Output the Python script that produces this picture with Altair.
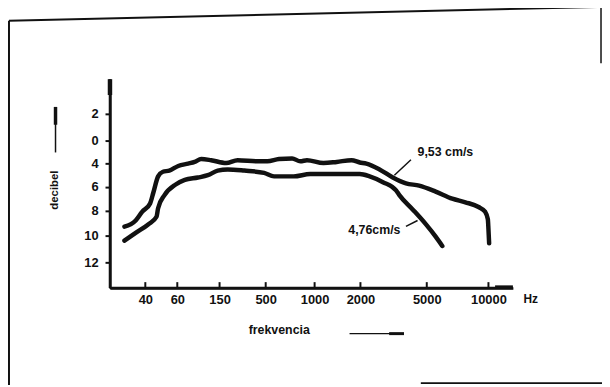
import altair as alt
import pandas as pd

# ---- data ----
freq_953 = [27, 34, 38, 43, 45, 48, 51, 55, 62, 83, 97, 111, 132, 200, 287, 438, 517, 636, 770, 854,
            922, 1194, 1482, 1806, 1985, 2269, 2864, 3464, 4060, 4655, 5722, 7063, 8130, 9198, 9735,
            9952, 10000, 10057]
db_953 = [9.3, 8.8, 8.1, 7.4, 6.5, 5.1, 4.7, 4.6, 4.2, 4.0, 3.7, 3.2, 3.4, 3.9, 3.4, 3.6, 3.6, 3.2, 3.1, 3.6,
          3.4, 3.9, 3.7, 3.4, 3.8, 4.0, 4.5, 5.2, 5.7, 5.9, 6.4, 7.0, 7.3, 7.7, 8.1,
          8.7, 9.5, 10.6]
freq_476 = [27, 34, 42, 47, 48, 52, 59, 76, 104, 125, 146, 212, 338, 488, 585, 787, 955, 1337, 1769, 1985,
            2416, 3017, 3612, 3760, 4360, 4955, 5722, 6260]
db_476 = [10.4, 9.8, 9.1, 8.5, 7.8, 6.7, 5.8, 5.4, 5.2, 5.0, 4.6, 4.5, 4.6, 4.8, 5.1, 5.1, 4.9, 4.9, 4.9, 4.9,
          5.1, 5.6, 6.3, 6.7, 7.9, 9.1, 10.1, 10.8]
series_names = ["9,53 cm/s", "4,76cm/s"]

x_ticks = [40, 60, 150, 500, 1000, 2000, 5000, 10000]
y_ticks = [-2, 0, 4, 6, 8, 10, 12]

# ---- non-uniform (hand drawn) axes: piecewise scales ----
x_domain = [18, 40, 60, 150, 500, 1000, 2000, 5000, 10000, 12000]
x_range = [0, 35.7, 68, 110.7, 157.3, 206.7, 253, 320, 382.3, 407]
y_domain = [-4.4, -2, 0, 4, 6, 8, 10, 12, 14]
y_range = [0, 32.7, 60, 83.3, 106.7, 130.7, 155.7, 182.7, 209]

W, H = 407, 209
FONT = "Liberation Sans"

df = pd.concat([
    pd.DataFrame({"freq": freq_953, "db": db_953, "series": series_names[0]}),
    pd.DataFrame({"freq": freq_476, "db": db_476, "series": series_names[1]}),
])

xscale = alt.Scale(type="linear", domain=x_domain, range=x_range, nice=False, zero=False)
yscale = alt.Scale(type="linear", domain=y_domain, range=y_range, nice=False, zero=False)

xaxis = alt.Axis(values=x_ticks, format="d", title=None, grid=False, ticks=False, tickSize=0,
                 labelPadding=6, labelFontSize=13, labelFontWeight="bold", labelFont=FONT,
                 labelColor="#111", domainColor="#111", domainWidth=2.5, labelFlush=False)
yaxis = alt.Axis(values=y_ticks, labelExpr="'' + abs(datum.value)", title=None, grid=False,
                 tickSize=5, tickWidth=2, tickColor="#111", labelPadding=7, labelFontSize=13,
                 labelFontWeight="bold", labelFont=FONT, labelColor="#111",
                 domainColor="#111", domainWidth=2.5, labelFlush=False)

lines = alt.Chart(df).mark_line(color="#111", strokeWidth=4.5, strokeJoin="round",
                                strokeCap="round", interpolate="monotone").encode(
    x=alt.X("freq:Q", scale=xscale, axis=xaxis),
    y=alt.Y("db:Q", scale=yscale, axis=yaxis),
    detail="series:N",
)

ticks = alt.Chart(pd.DataFrame({"t": x_ticks})).mark_rule(color="#111", strokeWidth=2).encode(
    x=alt.X("t:Q", scale=xscale, axis=xaxis),
    y=alt.value(H),
    y2=alt.value(H - 6),
)

one = pd.DataFrame({"a": [0]})


def rule(x1, y1, x2, y2, w=1.8):
    return alt.Chart(one).mark_rule(color="#111", strokeWidth=w).encode(
        x=alt.value(x1), y=alt.value(y1), x2=alt.value(x2), y2=alt.value(y2))


def txt(x, y, s, size=13, angle=0, align="center"):
    return alt.Chart(one).mark_text(font=FONT, fontSize=size, fontWeight="bold", color="#111",
                                    angle=angle, align=align, baseline="middle").encode(
        x=alt.value(x), y=alt.value(y), text=alt.value(s))


deco = [
    # scanned page frame
    rule(-102, -61, -102, 307, 2),
    rule(-102, -61, 496, -75, 2),
    rule(496, -75, 496, -18, 1.5),
    rule(314, 305, 499, 305, 2),
    # axis arrows
    rule(0, -2, 0, H, 2.5),
    rule(0, -2, 0, 14, 4.5),
    rule(0, H, 407, H, 2.5),
    rule(389, H - 1, 407, H - 1, 3.5),
    # decibel arrow
    rule(-55, 27, -55, 72, 1.5),
    rule(-55, 26, -55, 44, 3.5),
    # frekvencia arrow
    rule(242, 255, 297, 255, 1.5),
    rule(282, 255, 297, 255, 3),
    # leader lines
    rule(304, 79.3, 287.3, 95, 1.5),
    rule(299, 146.7, 310.7, 140.7, 1.5),
    # texts
    txt(310.7, 72, series_names[0], 12.5, align="left"),
    txt(240.7, 150, series_names[1], 12.5, align="left"),
    txt(-55, 110, "decibel", 11.5, angle=270),
    txt(171, 251, "frekvencia", 12.5),
    txt(425, 220, "Hz", 12),
]

chart = alt.layer(lines, ticks, *deco).properties(
    width=W, height=H,
    padding={"left": 103, "top": 72, "right": 90, "bottom": 98},
    autosize=alt.AutoSizeParams(type="none"),
    background="white",
).configure_view(strokeWidth=0)

chart.save("out.html", embed_options={"renderer": "svg", "actions": False})
